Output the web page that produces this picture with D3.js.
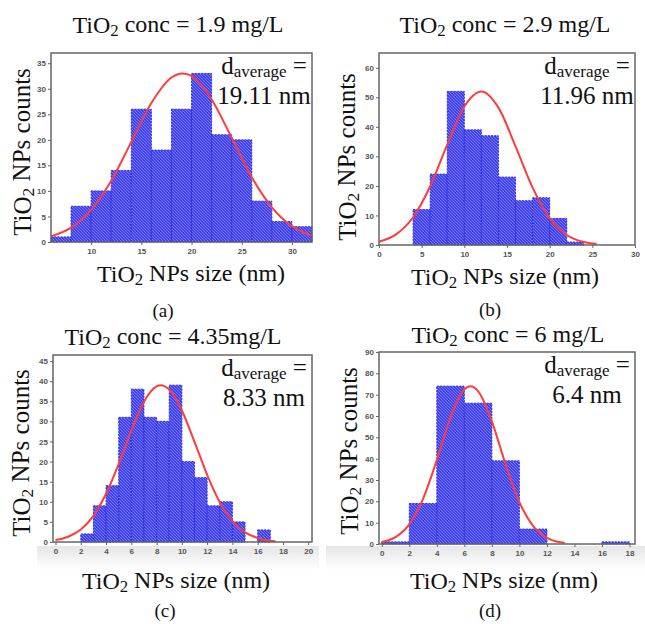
<!DOCTYPE html>
<html>
<head>
<meta charset="utf-8">
<script src="https://cdn.jsdelivr.net/npm/d3@7"></script>
<style>
  body { margin: 0; background: #fff; }
  svg { display: block; }
  .tick text { font-family: "Liberation Sans", Arial, sans-serif; font-weight: bold; font-size: 8px; fill: #555; }
  .tick line { stroke: #666; }
  .serif { font-family: "Liberation Serif", "Times New Roman", serif; fill: #111; }
</style>
</head>
<body>
<svg id="chart" width="645" height="624"></svg>
<script>
// ---- data ----
// (a) 1.9 mg/L
var binStartA = [6, 8, 10, 12, 14, 16, 18, 20, 22, 24, 26, 28, 30];
var countsA   = [1, 7, 10, 14, 26, 18, 26, 33, 21, 20, 8, 4, 3];
var fitXA = [6, 8, 10, 12, 14, 16, 18, 19.1, 20, 22, 24, 26, 28, 30, 32];
var fitYA = [1.1, 2.8, 6.3, 12, 19.6, 27.2, 32.2, 33, 32.5, 27.9, 20.4, 12.7, 6.8, 3.1, 1.2];
var xTicksA = [10, 15, 20, 25, 30];
var yTicksA = [0, 5, 10, 15, 20, 25, 30, 35];

// (b) 2.9 mg/L
var binStartB = [4, 6, 8, 10, 12, 14, 16, 18, 20, 22];
var countsB   = [12, 24, 52, 39, 37, 23, 15, 16, 9, 1];
var fitXB = [0, 2, 4, 6, 8, 10, 12, 14, 16, 18, 20, 22, 24, 25.5];
var fitYB = [1.1, 3.6, 9.4, 19.9, 34, 46.9, 52, 46.5, 33.4, 19.4, 9, 3.4, 1, 0.4];
var xTicksB = [0, 5, 10, 15, 20, 25, 30];
var yTicksB = [0, 10, 20, 30, 40, 50, 60];

// (c) 4.35 mg/L
var binStartC = [2, 3, 4, 5, 6, 7, 8, 9, 10, 11, 12, 13, 14, 15, 16];
var countsC   = [2, 9, 14, 31, 38, 31, 30, 39, 20, 16, 9, 10, 5, 0, 3];
var fitXC = [0, 1, 2, 3, 4, 5, 6, 7, 8, 8.33, 9, 10, 11, 12, 13, 14, 15, 16, 17, 17.4];
var fitYC = [0.5, 1.3, 3.1, 6.5, 12, 19.4, 27.7, 34.9, 38.7, 39, 37.9, 32.7, 24.9, 16.7, 9.9, 5.2, 2.4, 1, 0.3, 0.2];
var xTicksC = [0, 2, 4, 6, 8, 10, 12, 14, 16, 18, 20];
var yTicksC = [0, 5, 10, 15, 20, 25, 30, 35, 40, 45];

// (d) 6 mg/L
var binStartD = [0, 2, 4, 6, 8, 10, 12, 14, 16];
var countsD   = [1, 19, 74, 66, 39, 7, 0, 0, 1];
var fitXD = [0, 1, 2, 3, 4, 5, 6, 6.45, 7, 8, 9, 10, 11, 12, 13, 13.3];
var fitYD = [0.9, 3.2, 9.2, 21.2, 39.3, 59.3, 72.5, 74, 71.7, 57.5, 37.3, 19.6, 8.4, 2.9, 0.8, 0.5];
var xTicksD = [0, 2, 4, 6, 8, 10, 12, 14, 16, 18];
var yTicksD = [0, 10, 20, 30, 40, 50, 60, 70, 80, 90];

var titles   = ["1.9 mg/L", "2.9 mg/L", "4.35mg/L", "6 mg/L"];
var averages = ["19.11 nm", "11.96 nm", "8.33 nm", "6.4 nm"];
var captions = ["(a)", "(b)", "(c)", "(d)"];

// ---- layout of each panel (pixels) ----
var panels = [
  { bins: binStartA, counts: countsA, w: 2, fx: fitXA, fy: fitYA, xt: xTicksA, yt: yTicksA,
    xd: [6, 32], yd: [0, 37], box: [51, 312, 53, 242],
    title: [178, 33], xlab: [191, 282], ylab: [31, 152], cap: [163, 317] },
  { bins: binStartB, counts: countsB, w: 2, fx: fitXB, fy: fitYB, xt: xTicksB, yt: yTicksB,
    xd: [0, 30], yd: [0, 65], box: [379, 635, 53, 245],
    title: [505, 33], xlab: [505, 285], ylab: [356, 157], cap: [490, 316] },
  { bins: binStartC, counts: countsC, w: 1, fx: fitXC, fy: fitYC, xt: xTicksC, yt: yTicksC,
    xd: [-0.2, 20.3], yd: [0, 46.5], box: [53, 312, 355, 542],
    title: [173, 345], xlab: [176, 589], ylab: [30, 453], cap: [165, 617] },
  { bins: binStartD, counts: countsD, w: 2, fx: fitXD, fy: fitYD, xt: xTicksD, yt: yTicksD,
    xd: [-0.2, 18.4], yd: [0, 90], box: [379, 635, 352, 544],
    title: [508, 343], xlab: [504, 589], ylab: [358, 451], cap: [490, 617] }
];

var svg = d3.select("#chart");
var defs = svg.append("defs");

// diagonal hatch used by the bars
var pat = defs.append("pattern")
  .attr("id", "hatch")
  .attr("patternUnits", "userSpaceOnUse")
  .attr("width", 3).attr("height", 3);
pat.append("rect").attr("width", 3).attr("height", 3).attr("fill", "#4040f4");
pat.append("path")
  .attr("d", "M-1,-1 L4,4 M-1,2 L1,4 M2,-1 L4,1")
  .attr("stroke", "#ffffff").attr("stroke-opacity", 0.38).attr("stroke-width", 0.8);

// faint grey band under the lower panels (scan artefact)
var band = defs.append("linearGradient").attr("id", "band")
  .attr("x1", 0).attr("y1", 0).attr("x2", 0).attr("y2", 1);
band.append("stop").attr("offset", 0).attr("stop-color", "#e6e6e6");
band.append("stop").attr("offset", 1).attr("stop-color", "#ffffff");
svg.append("rect").attr("x", 37).attr("y", 546).attr("width", 282).attr("height", 24).attr("fill", "url(#band)");
svg.append("rect").attr("x", 326).attr("y", 546).attr("width", 319).attr("height", 24).attr("fill", "url(#band)");

function sub2(sel, before, after) {
  sel.append("tspan").text(before);
  sel.append("tspan").attr("font-size", "0.7em").attr("dy", "0.18em").text("2");
  sel.append("tspan").attr("dy", "-0.18em").text(after);
}

panels.forEach(function (p, i) {
  var b = p.box;
  var x = d3.scaleLinear().domain(p.xd).range([b[0], b[1]]);
  var y = d3.scaleLinear().domain(p.yd).range([b[3], b[2]]);
  var g = svg.append("g");

  // bars
  var data = p.bins.map(function (s, k) { return { x0: s, x1: s + p.w, c: p.counts[k] }; })
    .filter(function (d) { return d.c > 0; });
  g.selectAll("rect.bar").data(data).enter().append("rect")
    .attr("class", "bar")
    .attr("x", function (d) { return x(d.x0); })
    .attr("width", function (d) { return x(d.x1) - x(d.x0); })
    .attr("y", function (d) { return y(d.c); })
    .attr("height", function (d) { return y(0) - y(d.c); })
    .attr("fill", "url(#hatch)")
    .attr("stroke", "#2222dc")
    .attr("stroke-width", 0.9)
    .attr("stroke-dasharray", "2,1.2");

  // gaussian fit
  var line = d3.line()
    .x(function (d) { return x(d[0]); })
    .y(function (d) { return y(d[1]); })
    .curve(d3.curveMonotoneX);
  g.append("path")
    .datum(p.fx.map(function (v, k) { return [v, p.fy[k]]; }))
    .attr("d", line)
    .attr("fill", "none")
    .attr("stroke", "#ff3b3b")
    .attr("stroke-width", 2);

  // frame
  g.append("rect")
    .attr("x", b[0]).attr("y", b[2])
    .attr("width", b[1] - b[0]).attr("height", b[3] - b[2])
    .attr("fill", "none").attr("stroke", "#666").attr("stroke-width", 1.5);

  // axes
  var ax = g.append("g").attr("transform", "translate(0," + b[3] + ")")
    .call(d3.axisBottom(x).tickValues(p.xt).tickSize(3).tickPadding(3));
  ax.select(".domain").remove();
  var ay = g.append("g").attr("transform", "translate(" + b[0] + ",0)")
    .call(d3.axisLeft(y).tickValues(p.yt).tickSize(3).tickPadding(2));
  ay.select(".domain").remove();

  // title
  var t = svg.append("text").attr("class", "serif")
    .attr("x", p.title[0]).attr("y", p.title[1])
    .attr("text-anchor", "middle").attr("font-size", 24);
  sub2(t, "TiO", " conc = " + titles[i]);

  // x label
  var xl = svg.append("text").attr("class", "serif")
    .attr("x", p.xlab[0]).attr("y", p.xlab[1])
    .attr("text-anchor", "middle").attr("font-size", 24);
  sub2(xl, "TiO", " NPs size (nm)");

  // y label
  var yl = svg.append("text").attr("class", "serif")
    .attr("transform", "translate(" + p.ylab[0] + "," + p.ylab[1] + ") rotate(-90)")
    .attr("text-anchor", "middle").attr("font-size", 25);
  sub2(yl, "TiO", " NPs counts");

  // caption
  svg.append("text").attr("class", "serif")
    .attr("x", p.cap[0]).attr("y", p.cap[1])
    .attr("text-anchor", "middle").attr("font-size", 19)
    .text(captions[i]);

  // average size note
  var cx = b[1] - 48;
  var da = svg.append("text").attr("class", "serif")
    .attr("x", cx).attr("y", b[2] + 21)
    .attr("text-anchor", "middle").attr("font-size", 25);
  da.append("tspan").text("d");
  da.append("tspan").attr("font-size", 17).attr("dy", 3).text("average");
  da.append("tspan").attr("dy", -3).text(" =");
  svg.append("text").attr("class", "serif")
    .attr("x", cx).attr("y", b[2] + 51)
    .attr("text-anchor", "middle").attr("font-size", 25)
    .text(averages[i]);
});
</script>
</body>
</html>
